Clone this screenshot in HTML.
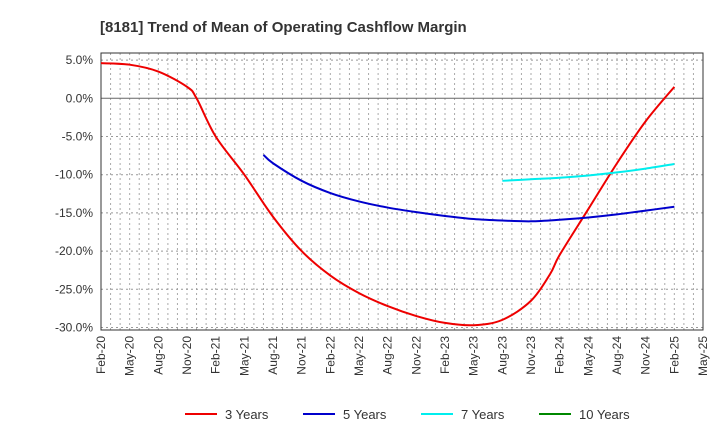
<!DOCTYPE html>
<html><head><meta charset="utf-8"><style>
body{margin:0;background:#fff;font-family:"Liberation Sans",Arial,sans-serif}
</style></head><body>
<svg id="c" width="720" height="440" xmlns="http://www.w3.org/2000/svg">
<text x="100" y="32" font-size="15" font-weight="bold" fill="#333">[8181]  Trend of Mean of Operating Cashflow Margin</text>
<g id="grid"></g><g id="axes"></g><g id="series"></g><g id="legend"></g>
</svg>
<script>
const xLabels=["Feb-20","May-20","Aug-20","Nov-20","Feb-21","May-21","Aug-21","Nov-21","Feb-22","May-22","Aug-22","Nov-22","Feb-23","May-23","Aug-23","Nov-23","Feb-24","May-24","Aug-24","Nov-24","Feb-25","May-25"];
const yTicks=[5,0,-5,-10,-15,-20,-25,-30];
const seriesNames=["3 Years","5 Years","7 Years","10 Years"];
const seriesColors=["#e00","#00c","#0ee","#080"];
// month index from Feb-20
const m3=[0,3,6,9,10,12,15,18,21,24,27,30,33,36,39,42,45,47,48,51,54,57,60];
const v3=[4.6,4.4,3.5,1.5,0,-5,-10,-15.5,-20,-23.2,-25.5,-27.2,-28.5,-29.4,-29.7,-29.0,-26.5,-23,-20.5,-14.5,-8.5,-3,1.5];
const m5=[17,18,21,24,27,30,33,36,39,42,45,48,51,54,57,60];
const v5=[-7.4,-8.5,-10.8,-12.4,-13.5,-14.3,-14.9,-15.4,-15.8,-16.0,-16.1,-15.9,-15.6,-15.2,-14.7,-14.2];
const m7=[42,45,48,51,54,57,60];
const v7=[-10.8,-10.6,-10.4,-10.1,-9.7,-9.2,-8.6];
const m10=[];const v10=[];
const L=101,R=703,T=53,B=330;
const X=m=>L+m*(R-L)/63;
const Y=v=>98.3-v*7.64;
const NS="http://www.w3.org/2000/svg";
function mk(p,t,a){const e=document.createElementNS(NS,t);for(const k in a)e.setAttribute(k,a[k]);p.appendChild(e);return e;}
const grid=document.getElementById('grid'),axes=document.getElementById('axes'),ser=document.getElementById('series'),leg=document.getElementById('legend');
for(let m=1;m<63;m++){const g=mk(grid,'line',{x1:X(m),x2:X(m),y1:T,y2:B,stroke:'#aaa','stroke-dasharray':'2,3','stroke-width':1});

}
yTicks.forEach(v=>{const g=mk(grid,'line',{x1:L,x2:R,y1:Y(v),y2:Y(v),stroke:v===0?'#666':'#999','stroke-dasharray':v===0?'':'2,3','stroke-width':1});


const t=mk(axes,'text',{x:L-8,y:Y(v)+4,'text-anchor':'end','font-size':12,fill:'#333'});t.textContent=v.toFixed(1)+'%';

});
const fr=mk(axes,'rect',{x:L,y:T,width:R-L,height:B-T,fill:'none',stroke:'#333','stroke-width':1});


xLabels.forEach((s,i)=>{const x=X(i*3);const t=mk(axes,'text',{x:x+4,y:B+6,'text-anchor':'end','font-size':12,fill:'#333',transform:`rotate(-90 ${x+4} ${B+6})`});t.textContent=s;

});
function line(ms,vs,c,name){if(!ms.length)return;
const P=ms.map((m,i)=>[X(m),Y(vs[i])]);
let d='M'+P[0][0]+','+P[0][1];
for(let i=0;i<P.length-1;i++){const p0=P[Math.max(0,i-1)],p1=P[i],p2=P[i+1],p3=P[Math.min(P.length-1,i+2)];
const c1=[p1[0]+(p2[0]-p0[0])/6,p1[1]+(p2[1]-p0[1])/6],c2=[p2[0]-(p3[0]-p1[0])/6,p2[1]-(p3[1]-p1[1])/6];
d+=` C${c1[0]},${c1[1]} ${c2[0]},${c2[1]} ${p2[0]},${p2[1]}`;}
const p=mk(ser,'path',{d:d,fill:'none',stroke:c,'stroke-width':2,'stroke-linejoin':'round'});

}
line(m3,v3,seriesColors[0],'line-3-years');line(m5,v5,seriesColors[1],'line-5-years');line(m7,v7,seriesColors[2],'line-7-years');line(m10,v10,seriesColors[3],'line-10-years');
const lx=[185,303,421,539];
seriesNames.forEach((n,i)=>{const g=mk(leg,'g',{});


mk(g,'line',{x1:lx[i],x2:lx[i]+32,y1:414,y2:414,stroke:seriesColors[i],'stroke-width':2});
const t=mk(g,'text',{x:lx[i]+40,y:419,'font-size':13,fill:'#333'});t.textContent=n;});
</script>
</body></html>
